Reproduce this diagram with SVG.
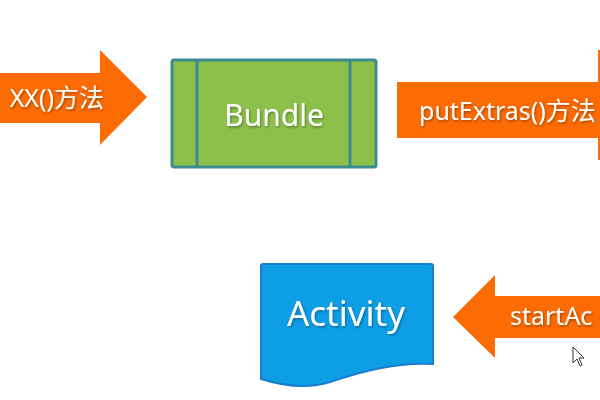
<svg xmlns="http://www.w3.org/2000/svg" width="600" height="400" viewBox="0 0 600 400">
<style>
.arrow{fill:#fc6b04}
.lbl{font-family:"Noto Sans","Noto Sans CJK SC",sans-serif;fill:#ffffff;filter:url(#sh)}
</style>
<defs>
<filter id="sh" x="-10%" y="-20%" width="120%" height="150%">
<feDropShadow dx="1" dy="1.5" stdDeviation="0.8" flood-color="#000" flood-opacity="0.35"/>
</filter>
</defs>
<rect width="600" height="400" fill="#ffffff"/>
<g id="connectors">
<g id="arrow-put">
<polygon class="arrow" points="-2,73 100,73 100,50 147,97 100,145 100,123 -2,123"/>
<text class="lbl" x="104" y="107" font-size="25" text-anchor="end">XX()方法</text>
</g>
<g id="arrow-putExtras">
<polygon class="arrow" points="397,82 598,82 598,50 620,50 620,160 598,160 598,138 397,138"/>
<text class="lbl" x="419" y="120" font-size="25">putExtras()方法</text>
</g>
<g id="arrow-start">
<polygon class="arrow" points="453,317 495,275 495,296 602,296 602,338 495,338 495,358"/>
<text class="lbl" x="510" y="325" font-size="25">startAc</text>
</g>
</g>
<g id="bundle">
<rect x="172" y="60" width="204" height="107" rx="2" fill="#8cc04b" stroke="#3b8c92" stroke-width="3"/>
<line x1="197" y1="60" x2="197" y2="167" stroke="#3b8c92" stroke-width="3"/>
<line x1="350" y1="60" x2="350" y2="167" stroke="#3b8c92" stroke-width="3"/>
<text class="lbl" x="274" y="126" font-size="30" text-anchor="middle">Bundle</text>
</g>
<g id="activity">
<path d="M263,264 L431,264 Q433,264 433,266 L433,364 C395,362 360,372 330,382 C305,390 280,385 261,379 L261,266 Q261,264 263,264 Z" fill="#0d9ee6" stroke="#1a7ccc" stroke-width="2"/>
<text class="lbl" x="346" y="326" font-size="35" text-anchor="middle">Activity</text>
</g>
<g id="cursor">
<path d="M573,347 L573,363 L577,359 L580,366 L582,365 L579,358 L584,358 Z" fill="#ffffff" stroke="#333" stroke-width="1"/>
</g>
</svg>
